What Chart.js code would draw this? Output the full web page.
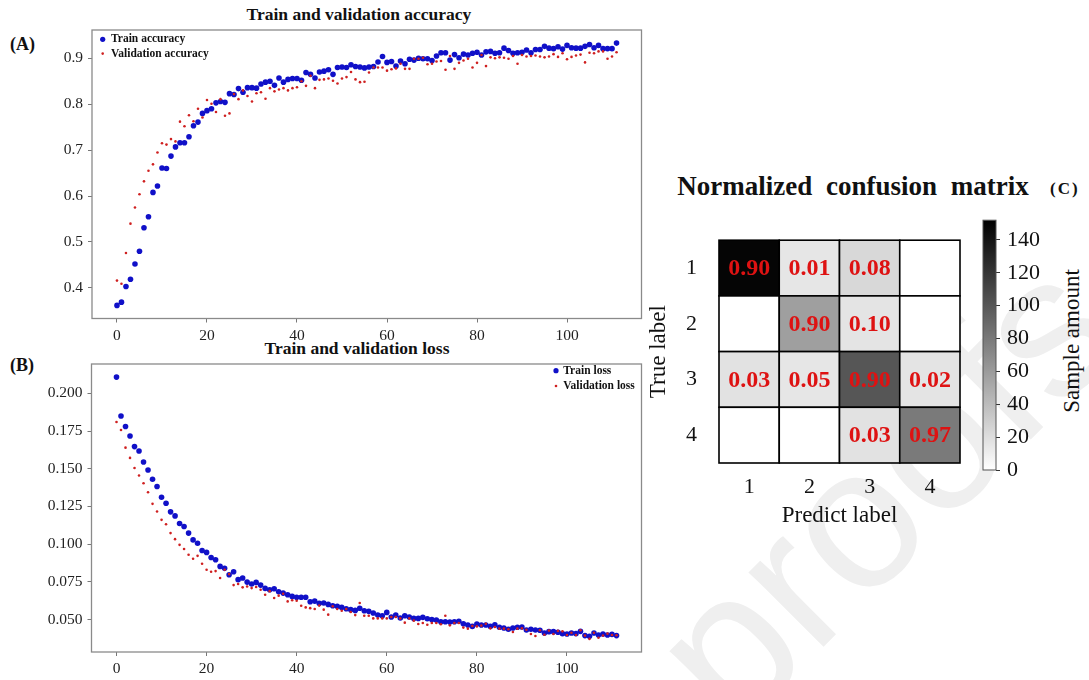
<!DOCTYPE html>
<html>
<head>
<meta charset="utf-8">
<script src="https://cdn.jsdelivr.net/npm/chart.js@4.4.1/dist/chart.umd.min.js"></script>
<style>
html,body{margin:0;padding:0;background:#fff;}
#root{position:relative;width:1089px;height:680px;overflow:hidden;background:#fff;font-family:'Liberation Serif','Times New Roman',serif;color:#111;}
.t{position:absolute;white-space:nowrap;line-height:1;}
canvas{position:absolute;}
#wm{position:absolute;left:757px;top:757px;width:0;height:0;}
#wm span{position:absolute;left:0;bottom:0;line-height:1;white-space:nowrap;font-family:'Liberation Sans',Arial,sans-serif;font-size:200px;color:#efefef;transform-origin:0 100%;transform:rotate(-45deg);}
</style>
</head>
<body>
<div id="root">
  <div id="wm"><span>proofs</span></div>
  <div class="t" style="left:359px;top:16px;transform:translate(-50%,-60%);font-weight:bold;font-size:17.5px;">Train and validation accuracy</div>
  <div class="t" style="left:357px;top:350px;transform:translate(-50%,-60%);font-weight:bold;font-size:17.5px;">Train and validation loss</div>
  <div class="t" style="left:10px;top:45px;transform:translateY(-55%);font-weight:bold;font-size:18px;">(A)</div>
  <div class="t" style="left:10px;top:366px;transform:translateY(-55%);font-weight:bold;font-size:18px;">(B)</div>
  <div class="t" style="left:853px;top:189px;transform:translate(-50%,-60%);font-weight:bold;font-size:27px;word-spacing:7px;">Normalized confusion matrix</div>
  <div class="t" style="left:1050px;top:189px;transform:translateY(-55%);font-weight:bold;font-size:17px;letter-spacing:2px;">(C)</div>
  <div class="t" style="left:1071px;top:341px;transform:translate(-50%,-50%) rotate(-90deg);font-size:23px;">Sample amount</div>

  <canvas id="cA" width="660" height="345" style="left:0;top:0;"></canvas>
  <canvas id="cB" width="660" height="340" style="left:0;top:340px;"></canvas>
  <canvas id="cM" width="330" height="335" style="left:640px;top:205px;"></canvas>
  <canvas id="cC" width="119" height="300" style="left:970px;top:200px;"></canvas>
</div>
<script>
// ---------------- DATA ----------------
const trainAcc = [0.362,0.369,0.403,0.419,0.452,0.480,0.531,0.555,0.608,0.622,
 0.661,0.660,0.687,0.707,0.716,0.716,0.729,0.753,0.761,0.780,
 0.786,0.790,0.803,0.806,0.804,0.823,0.821,0.834,0.826,0.836,
 0.836,0.835,0.844,0.848,0.850,0.841,0.857,0.848,0.854,0.856,
 0.856,0.852,0.869,0.865,0.857,0.870,0.872,0.875,0.865,0.880,
 0.881,0.880,0.886,0.882,0.881,0.879,0.881,0.882,0.892,0.904,
 0.891,0.893,0.883,0.894,0.888,0.898,0.896,0.900,0.899,0.899,
 0.895,0.905,0.912,0.912,0.896,0.908,0.901,0.909,0.907,0.911,
 0.913,0.907,0.914,0.915,0.911,0.912,0.922,0.917,0.911,0.912,
 0.913,0.918,0.912,0.919,0.919,0.926,0.922,0.921,0.925,0.920,
 0.928,0.923,0.922,0.922,0.926,0.930,0.923,0.928,0.921,0.921,
 0.921,0.933];
const valAcc = [0.416,0.409,0.476,0.540,0.575,0.604,0.632,0.655,0.669,0.695,
 0.715,0.712,0.724,0.719,0.762,0.752,0.776,0.763,0.790,0.771,
 0.809,0.801,0.783,0.811,0.775,0.780,0.822,0.811,0.830,0.818,
 0.806,0.824,0.826,0.812,0.835,0.828,0.832,0.835,0.830,0.835,
 0.837,0.850,0.840,0.862,0.835,0.853,0.854,0.856,0.851,0.845,
 0.856,0.859,0.870,0.854,0.848,0.849,0.869,0.880,0.880,0.880,
 0.873,0.876,0.878,0.888,0.877,0.877,0.899,0.899,0.901,0.887,
 0.888,0.893,0.894,0.875,0.905,0.877,0.890,0.895,0.899,0.880,
 0.890,0.907,0.883,0.902,0.900,0.902,0.901,0.899,0.905,0.888,
 0.907,0.904,0.905,0.906,0.904,0.902,0.904,0.909,0.903,0.911,
 0.898,0.903,0.906,0.908,0.891,0.912,0.911,0.915,0.915,0.899,
 0.904,0.913];
const trainLoss = [0.2108,0.1850,0.1780,0.1717,0.1647,0.1618,0.1545,0.1492,0.1430,0.1382,
 0.1311,0.1271,0.1214,0.1187,0.1137,0.1117,0.1073,0.1028,0.1006,0.0958,
 0.0945,0.0911,0.0896,0.0852,0.0839,0.0797,0.0817,0.0764,0.0775,0.0748,
 0.0735,0.0746,0.0728,0.0706,0.0697,0.0704,0.0684,0.0675,0.0664,0.0653,
 0.0647,0.0647,0.0647,0.0618,0.0622,0.0607,0.0609,0.0600,0.0591,0.0587,
 0.0580,0.0571,0.0565,0.0560,0.0574,0.0558,0.0554,0.0543,0.0529,0.0525,
 0.0547,0.0516,0.0529,0.0510,0.0525,0.0516,0.0507,0.0507,0.0514,0.0505,
 0.0499,0.0496,0.0485,0.0485,0.0483,0.0485,0.0488,0.0472,0.0463,0.0454,
 0.0470,0.0463,0.0463,0.0454,0.0465,0.0448,0.0443,0.0435,0.0443,0.0448,
 0.0450,0.0430,0.0435,0.0430,0.0428,0.0410,0.0419,0.0419,0.0415,0.0406,
 0.0404,0.0410,0.0406,0.0421,0.0393,0.0388,0.0410,0.0397,0.0404,0.0397,
 0.0401,0.0393];
const valLoss = [0.1810,0.1757,0.1640,0.1572,0.1505,0.1455,0.1404,0.1344,0.1267,0.1216,
 0.1161,0.1132,0.1073,0.1033,0.0995,0.0967,0.0929,0.0903,0.0922,0.0870,
 0.0830,0.0817,0.0821,0.0775,0.0830,0.0801,0.0728,0.0735,0.0713,0.0719,
 0.0708,0.0715,0.0697,0.0664,0.0688,0.0642,0.0658,0.0671,0.0620,0.0627,
 0.0624,0.0591,0.0580,0.0575,0.0569,0.0592,0.0565,0.0532,0.0587,0.0569,
 0.0558,0.0569,0.0550,0.0529,0.0609,0.0525,0.0525,0.0507,0.0507,0.0507,
 0.0507,0.0516,0.0516,0.0507,0.0479,0.0507,0.0492,0.0470,0.0477,0.0465,
 0.0477,0.0477,0.0468,0.0525,0.0461,0.0477,0.0477,0.0446,0.0439,0.0457,
 0.0454,0.0459,0.0472,0.0441,0.0450,0.0439,0.0439,0.0435,0.0417,0.0439,
 0.0441,0.0432,0.0404,0.0390,0.0428,0.0399,0.0426,0.0404,0.0424,0.0421,
 0.0397,0.0412,0.0397,0.0428,0.0393,0.0371,0.0412,0.0379,0.0393,0.0406,
 0.0397,0.0395];
const epochTicks = [0, 20, 40, 60, 80, 100];
const accTicks = [0.4, 0.5, 0.6, 0.7, 0.8, 0.9];
const lossTicks = [0.050, 0.075, 0.100, 0.125, 0.150, 0.175, 0.200];

const classLabels = ['1', '2', '3', '4'];
// normalized confusion matrix (rows: true, cols: predicted); null = empty cell
const cmNormalized = [
  [0.90, 0.01, 0.08, null],
  [null, 0.90, 0.10, null],
  [0.03, 0.05, 0.90, 0.02],
  [null, null, 0.03, 0.97]
];
// sample amounts (cell shading)
const cmCounts = [
  [149, 15, 23, 0],
  [0, 57, 16, 0],
  [17, 15, 101, 16],
  [0, 0, 17, 79]
];
const colorbarMax = 152;
const colorbarTicks = [0, 20, 40, 60, 80, 100, 120, 140];

// ---------------- HELPERS ----------------
const SERIF = "'Liberation Serif','Times New Roman',serif";
const BLUE = '#1010c8';
const RED = '#cf2020';
const epochs = trainAcc.map((_, i) => i);

function padRange(arrs) {
  const all = [].concat(...arrs);
  const lo = Math.min(...all), hi = Math.max(...all);
  const p = 0.05 * (hi - lo);
  return [lo - p, hi + p];
}
function pts(ys) { return ys.map((y, i) => ({x: epochs[i], y})); }
function grey(v) {
  const g = Math.round(255 * (1 - Math.max(0, Math.min(1, v / colorbarMax))));
  return `rgb(${g},${g},${g})`;
}

const framePlugin = {
  id: 'frame',
  beforeDatasetsDraw(chart, args, o) {
    const {ctx, chartArea: a} = chart;
    ctx.save();
    ctx.strokeStyle = o.color || '#888';
    ctx.lineWidth = o.width || 1;
    ctx.strokeRect(a.left, a.top, a.right - a.left, a.bottom - a.top);
    ctx.restore();
  }
};

const dotLegend = {
  id: 'dotLegend',
  afterDatasetsDraw(chart, args, o) {
    const {ctx, chartArea: a} = chart;
    ctx.save();
    ctx.font = o.font;
    ctx.textBaseline = 'middle';
    ctx.textAlign = 'left';
    chart.data.datasets.forEach((ds, i) => {
      const y = a.top + o.y + i * o.dy;
      const mx = o.fromRight ? a.right - o.x : a.left + o.x;
      ctx.beginPath();
      ctx.arc(mx, y, o.radii[i], 0, Math.PI * 2);
      ctx.fillStyle = ds.backgroundColor;
      ctx.fill();
      ctx.fillStyle = '#111';
      ctx.fillText(ds.label, mx + o.gap, y);
    });
    ctx.restore();
  }
};

function lineScales(xr, yr, yTicks, digits, xH, yW, fs) {
  return {
    x: {
      type: 'linear', min: xr[0], max: xr[1],
      afterBuildTicks: s => { s.ticks = epochTicks.map(v => ({value: v})); },
      afterFit: s => { s.height = xH; },
      ticks: {autoSkip: false, maxRotation: 0, padding: 4, color: '#222',
              font: {family: SERIF, size: fs}, callback: v => String(v)},
      grid: {drawOnChartArea: false, drawTicks: true, tickLength: 4, color: '#777'},
      border: {display: false}
    },
    y: {
      type: 'linear', min: yr[0], max: yr[1],
      afterBuildTicks: s => { s.ticks = yTicks.map(v => ({value: v})); },
      afterFit: s => { s.width = yW; },
      ticks: {autoSkip: false, padding: 5, color: '#222',
              font: {family: SERIF, size: fs}, callback: v => Number(v).toFixed(digits)},
      grid: {drawOnChartArea: false, drawTicks: true, tickLength: 4, color: '#777'},
      border: {display: false}
    }
  };
}

function scatterSets(labelA, a, labelB, b) {
  return [
    {label: labelA, data: pts(a), backgroundColor: BLUE, borderColor: BLUE, borderWidth: 0,
     pointRadius: 2.8, pointHoverRadius: 2.8, order: 2},
    {label: labelB, data: pts(b), backgroundColor: RED, borderColor: RED, borderWidth: 0,
     pointRadius: 1.3, pointHoverRadius: 1.3, order: 1}
  ];
}

const xRange = padRange([epochs]);

// ---------------- (A) accuracy ----------------
new Chart(document.getElementById('cA'), {
  type: 'scatter',
  data: {datasets: scatterSets('Train accuracy', trainAcc, 'Validation accuracy', valAcc)},
  options: {
    responsive: false, animation: false, devicePixelRatio: 1,
    layout: {padding: {top: 30, right: 18.5, left: 0, bottom: 0}},
    plugins: {
      legend: {display: false}, tooltip: {enabled: false},
      frame: {color: '#8a8a8a', width: 1.3},
      dotLegend: {font: `bold 11.5px ${SERIF}`, x: 10.7, y: 9.3, dy: 14.3, gap: 8.3, radii: [2.6, 1.3]}
    },
    scales: lineScales(xRange, padRange([trainAcc, valAcc]), accTicks, 1, 26.5, 92, 15.5)
  },
  plugins: [framePlugin, dotLegend]
});

// ---------------- (B) loss ----------------
new Chart(document.getElementById('cB'), {
  type: 'scatter',
  data: {datasets: scatterSets('Train loss', trainLoss, 'Validation loss', valLoss)},
  options: {
    responsive: false, animation: false, devicePixelRatio: 1,
    layout: {padding: {top: 24, right: 18.5, left: 0, bottom: 0}},
    plugins: {
      legend: {display: false}, tooltip: {enabled: false},
      frame: {color: '#8a8a8a', width: 1.3},
      dotLegend: {font: `bold 11.5px ${SERIF}`, fromRight: true, x: 85.5, y: 6.7, dy: 15.3, gap: 7.3, radii: [2.6, 1.3]}
    },
    scales: lineScales(xRange, padRange([trainLoss, valLoss]), lossTicks, 3, 28, 91.5, 15.5)
  },
  plugins: [framePlugin, dotLegend]
});

// ---------------- (C) confusion matrix ----------------
const cellPlugin = {
  id: 'cells',
  beforeDatasetsDraw(chart) {
    const {ctx} = chart;
    const xs = chart.scales.x, ys = chart.scales.y;
    ctx.save();
    for (let r = 0; r < cmCounts.length; r++) {
      for (let c = 0; c < cmCounts[r].length; c++) {
        const x0 = xs.getPixelForValue(c + 0.5), x1 = xs.getPixelForValue(c + 1.5);
        const y0 = ys.getPixelForValue(r + 0.5), y1 = ys.getPixelForValue(r + 1.5);
        ctx.fillStyle = grey(cmCounts[r][c]);
        ctx.fillRect(x0, y0, x1 - x0, y1 - y0);
        ctx.strokeStyle = '#000';
        ctx.lineWidth = 1.6;
        ctx.strokeRect(x0, y0, x1 - x0, y1 - y0);
      }
    }
    ctx.font = `bold 24px ${SERIF}`;
    ctx.textAlign = 'center';
    ctx.textBaseline = 'middle';
    ctx.fillStyle = '#de1212';
    for (let r = 0; r < cmNormalized.length; r++) {
      for (let c = 0; c < cmNormalized[r].length; c++) {
        const v = cmNormalized[r][c];
        if (v === null) continue;
        ctx.fillText(v.toFixed(2), xs.getPixelForValue(c + 1), ys.getPixelForValue(r + 1) + 1);
      }
    }
    ctx.restore();
  }
};

const cellPoints = [];
cmNormalized.forEach((row, r) => row.forEach((v, c) => cellPoints.push({x: c + 1, y: r + 1})));

new Chart(document.getElementById('cM'), {
  type: 'scatter',
  data: {datasets: [{label: 'cells', data: cellPoints, pointRadius: 0, pointHoverRadius: 0}]},
  options: {
    responsive: false, animation: false, devicePixelRatio: 1,
    layout: {padding: {top: 15, right: 10, left: 0, bottom: 0}},
    plugins: {legend: {display: false}, tooltip: {enabled: false}},
    scales: {
      x: {
        type: 'linear', min: 0.5, max: classLabels.length + 0.5,
        afterBuildTicks: s => { s.ticks = classLabels.map((_, i) => ({value: i + 1})); },
        afterFit: s => { s.height = 77; },
        ticks: {autoSkip: false, maxRotation: 0, padding: 11, color: '#111',
                font: {family: SERIF, size: 22}, callback: v => classLabels[v - 1]},
        grid: {display: false, drawTicks: false},
        border: {display: false},
        title: {display: true, text: 'Predict label', color: '#111',
                font: {family: SERIF, size: 23}, padding: {top: 0, bottom: 10}}
      },
      y: {
        type: 'linear', min: 0.5, max: classLabels.length + 0.5, reverse: true,
        afterBuildTicks: s => { s.ticks = classLabels.map((_, i) => ({value: i + 1})); },
        afterFit: s => { s.width = 79; },
        ticks: {autoSkip: false, padding: 22, color: '#111',
                font: {family: SERIF, size: 22}, callback: v => classLabels[v - 1]},
        grid: {display: false, drawTicks: false},
        border: {display: false},
        title: {display: true, text: 'True label', color: '#111',
                font: {family: SERIF, size: 23}, padding: {top: 5, bottom: 0}}
      }
    }
  },
  plugins: [cellPlugin]
});

// ---------------- colorbar ----------------
new Chart(document.getElementById('cC'), {
  type: 'bar',
  data: {
    labels: [''],
    datasets: [{
      label: 'Sample amount',
      data: [colorbarMax],
      barPercentage: 1, categoryPercentage: 1, borderWidth: 0,
      backgroundColor: (ctx) => {
        const chart = ctx.chart;
        if (!chart.chartArea) return '#888';
        const y = chart.scales.y;
        const g = chart.ctx.createLinearGradient(0, y.getPixelForValue(0), 0, y.getPixelForValue(colorbarMax));
        g.addColorStop(0, grey(0));
        g.addColorStop(0.5, grey(colorbarMax / 2));
        g.addColorStop(1, grey(colorbarMax));
        return g;
      }
    }]
  },
  options: {
    responsive: false, animation: false, devicePixelRatio: 1,
    layout: {padding: {top: 16, left: 13, right: 0, bottom: 30}},
    plugins: {legend: {display: false}, tooltip: {enabled: false}},
    scales: {
      x: {display: false},
      y: {
        position: 'right', min: 0, max: colorbarMax,
        afterBuildTicks: s => { s.ticks = colorbarTicks.map(v => ({value: v})); },
        afterFit: s => { s.width = 93; },
        ticks: {autoSkip: false, padding: 7, color: '#111', font: {family: SERIF, size: 22}},
        grid: {drawOnChartArea: false, drawTicks: true, tickLength: 4, color: '#333'},
        border: {display: false}
      }
    }
  },
  plugins: [{
    id: 'cbframe',
    afterDatasetsDraw(chart) {
      const {ctx, chartArea: a} = chart;
      ctx.save(); ctx.strokeStyle = '#555'; ctx.lineWidth = 1;
      ctx.strokeRect(a.left, a.top, a.right - a.left, a.bottom - a.top);
      ctx.restore();
    }
  }]
});
</script>
</body>
</html>
